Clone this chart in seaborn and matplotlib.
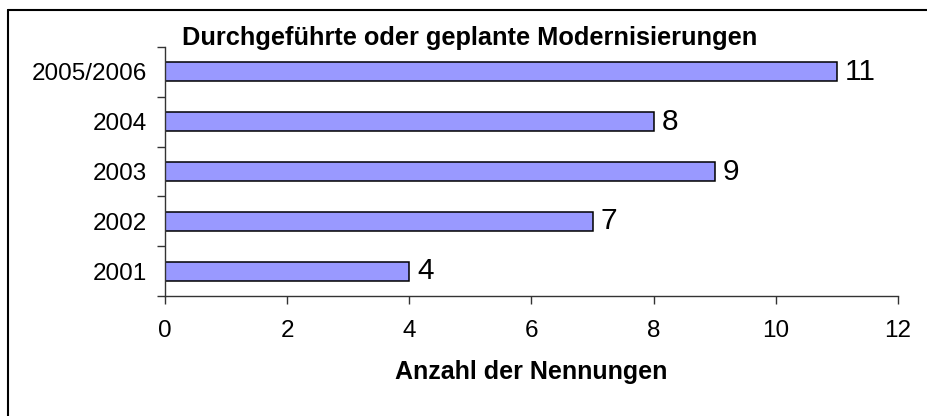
import matplotlib
matplotlib.use('Agg')
import matplotlib.pyplot as plt
from matplotlib.lines import Line2D
import pandas as pd
import seaborn as sns

# ── Data ─────────────────────────────────────────────
years = ['2005/2006', '2004', '2003', '2002', '2001']
counts = [11, 8, 9, 7, 4]
x_ticks = [0, 2, 4, 6, 8, 10, 12]

title = 'Durchgeführte oder geplante Modernisierungen'
x_label = 'Anzahl der Nennungen'

BAR = '#9999FF'

sns.set_style('ticks')
plt.rcParams['font.family'] = ['Liberation Sans', 'DejaVu Sans']
plt.rcParams.update({'text.color': 'black', 'axes.labelcolor': 'black',
                     'xtick.labelcolor': 'black', 'ytick.labelcolor': 'black'})

df = pd.DataFrame({'year': years, 'count': counts})

fig = plt.figure(figsize=(9.28, 4.16), dpi=100, facecolor='white')
ax = fig.add_axes([165 / 928, 1 - 296 / 416, (898 - 165) / 928, (296 - 47) / 416])

sns.barplot(data=df, x='count', y='year', order=years, color=BAR,
            edgecolor='black', linewidth=1.1, width=0.38, saturation=1, ax=ax)

ax.set_xlim(0, 12)
ax.set_ylim(len(years) - 0.5, -0.5)
ax.set_xticks(x_ticks)
ax.set_xticklabels([str(t) for t in x_ticks], fontsize=17.5)
ax.set_yticks(range(len(years)))
ax.set_yticklabels(years, fontsize=17.5)
ax.set_yticks([i - 0.5 for i in range(len(years) + 1)], minor=True)
ax.tick_params(axis='y', which='major', length=0, pad=13, labelcolor='black')
ax.tick_params(axis='y', which='minor', length=6, width=1, direction='out', color='#333333')
ax.tick_params(axis='x', length=6, width=1, direction='out', pad=11, color='#333333',
               labelcolor='black')
ax.set_ylabel('')
ax.set_xlabel(x_label, fontsize=18, fontweight='bold', labelpad=13, color='black')

for side in ['top', 'right']:
    ax.spines[side].set_visible(False)
for side in ['left', 'bottom']:
    ax.spines[side].set_color('#333333')
    ax.spines[side].set_linewidth(1)

for i, v in enumerate(counts):
    ax.annotate(str(v), xy=(v, i), xytext=(6, 0), textcoords='offset points',
                ha='left', va='center', fontsize=21.5, color='black')

fig.text(182 / 928, 1 - 45 / 416, title, fontsize=18.3, fontweight='bold',
         ha='left', va='baseline', color='black')

# outer chart frame (only left and top edges visible)
fig.add_artist(Line2D([7.5 / 928, 7.5 / 928], [0, 1 - 9.5 / 416],
                      transform=fig.transFigure, color='black', lw=1.5))
fig.add_artist(Line2D([7.5 / 928, 1], [1 - 9.5 / 416, 1 - 9.5 / 416],
                      transform=fig.transFigure, color='black', lw=1.5))

plt.savefig('out.png', dpi=100, facecolor='white')
plt.close()
